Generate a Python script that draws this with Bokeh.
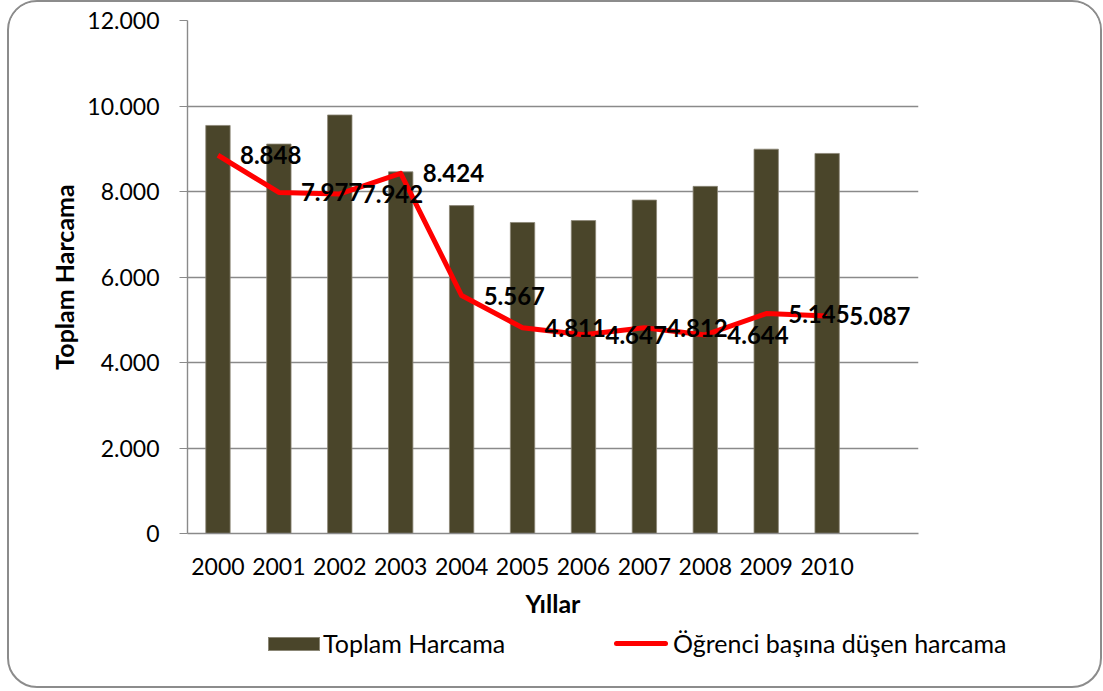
from bokeh.plotting import figure
from bokeh.layouts import column
from bokeh.models import FactorRange, Range1d, FixedTicker, ColumnDataSource, Div
from bokeh.core.properties import value
from bokeh.embed import file_html
from bokeh.resources import INLINE

# ---- data ----
years = ["2000", "2001", "2002", "2003", "2004", "2005", "2006", "2007", "2008", "2009", "2010"]
toplam_harcama = [9545, 9110, 9790, 8460, 7670, 7275, 7320, 7800, 8120, 8990, 8890]
ogrenci_basina = [8848, 7977, 7942, 8424, 5567, 4811, 4647, 4812, 4644, 5145, 5087]
y_ticks = [0, 2000, 4000, 6000, 8000, 10000, 12000]
y_tick_labels = ["0", "2.000", "4.000", "6.000", "8.000", "10.000", "12.000"]
extra_slot = [" "]
series_names = ["Toplam Harcama", "Öğrenci başına düşen harcama"]

# ---- styles ----
FONT = "Lato"
BAR_COLOR = "#4A452A"
BAR_EDGE = "#8b8776"
LINE_COLOR = "#FF0000"
GRID_COLOR = "#8a8a8a"
LABEL_OFFSET = 22

factors = years + extra_slot
label_texts = [f"{v:,}".replace(",", ".") for v in ogrenci_basina]

src = ColumnDataSource(dict(x=years, bar=toplam_harcama, line=ogrenci_basina, lbl=label_texts))

W = 1091
p = figure(x_range=FactorRange(*factors, range_padding=0), y_range=Range1d(0, 12000),
           width=W, height=620, output_backend="svg", toolbar_location=None,
           min_border_left=178, min_border_right=182, min_border_top=18, min_border_bottom=89,
           styles={"flex-shrink": "0"})

p.outline_line_color = None
p.xgrid.grid_line_color = None
p.ygrid.grid_line_color = GRID_COLOR
p.ygrid.grid_line_width = 1.4
p.ygrid.ticker = FixedTicker(ticks=y_ticks)

bars = p.vbar(x="x", top="bar", width=0.4, source=src, fill_color=BAR_COLOR,
              line_color=BAR_EDGE, line_width=0.8)
line = p.line(x="x", y="line", source=src, line_color=LINE_COLOR, line_width=5,
              line_join="round")
p.text(x="x", y="line", text="lbl", source=src, x_offset=LABEL_OFFSET, text_align="left",
       text_baseline="middle", text_font=value(FONT), text_font_style="bold",
       text_font_size="24px", text_color="black")

# y axis
ya = p.yaxis[0]
ya.ticker = FixedTicker(ticks=y_ticks)
ya.major_label_overrides = {t: l for t, l in zip(y_ticks, y_tick_labels)}
ya.minor_tick_line_color = None
ya.major_tick_out = 8
ya.major_tick_in = 0
ya.major_tick_line_color = GRID_COLOR
ya.axis_line_color = GRID_COLOR
ya.axis_line_width = 1.4
ya.major_label_standoff = 20
ya.major_label_text_font = FONT
ya.major_label_text_font_size = "23px"
ya.major_label_text_color = "black"
ya.axis_label = series_names[0]
ya.axis_label_text_font = FONT
ya.axis_label_text_font_style = "bold"
ya.axis_label_text_font_size = "25px"
ya.axis_label_text_color = "black"
ya.axis_label_standoff = 5

# x axis
xa = p.xaxis[0]
xa.major_tick_line_color = None
xa.minor_tick_line_color = None
xa.axis_line_color = GRID_COLOR
xa.axis_line_width = 1.4
xa.major_label_standoff = 12
xa.major_label_text_font = FONT
xa.major_label_text_font_size = "23px"
xa.major_label_text_color = "black"
xa.axis_label = "Yıllar"
xa.axis_label_text_font = FONT
xa.axis_label_text_font_style = "bold"
xa.axis_label_text_font_size = "25px"
xa.axis_label_text_color = "black"
xa.axis_label_standoff = 5

# legend strip (HTML)
legend_html = f"""
<div style="position:relative;width:{W}px;height:58px;font-family:Lato;font-size:25px;color:black;">
  <span style="position:absolute;left:259px;top:15px;width:52px;height:14px;background:{BAR_COLOR};border:1px solid {BAR_EDGE};box-sizing:border-box;"></span>
  <span style="position:absolute;left:314px;top:6px;line-height:30px;white-space:nowrap;">{series_names[0]}</span>
  <span style="position:absolute;left:605px;top:19px;width:54px;height:5px;background:{LINE_COLOR};border-radius:3px;"></span>
  <span style="position:absolute;left:664px;top:6px;line-height:30px;white-space:nowrap;">{series_names[1]}</span>
</div>
"""
lf = Div(text=legend_html, width=W, height=64, margin=0)

layout = column(p, lf, spacing=0,
                styles={"border": "2px solid #8c8c8c", "border-radius": "30px",
                        "margin-left": "7px", "overflow": "hidden"})

open("out.html", "w").write(file_html(layout, INLINE))
